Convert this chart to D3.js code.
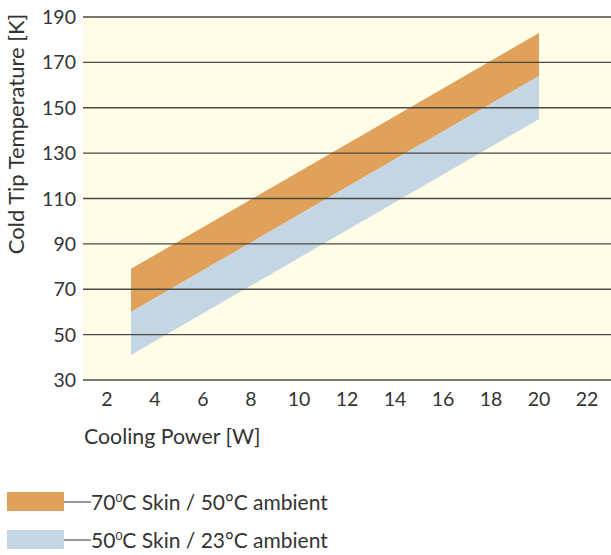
<!DOCTYPE html>
<html>
<head>
<meta charset="utf-8">
<script src="https://cdn.jsdelivr.net/npm/d3@7"></script>
<style>
  body { margin: 0; background: #fff; }
  svg text { font-family: Lato, "Open Sans", sans-serif; fill: #333; }
</style>
</head>
<body>
<div id="chart"></div>
<script>
// data
const powers = [3, 20];
const hotTop = [79, 183];      // 70C skin upper edge
const hotBottom = [60, 164];   // 70C skin lower edge
const coldTop = [60, 164];     // 50C skin upper edge
const coldBottom = [41, 145];  // 50C skin lower edge
const xTicks = [2, 4, 6, 8, 10, 12, 14, 16, 18, 20, 22];
const yTicks = [30, 50, 70, 90, 110, 130, 150, 170, 190];
const legendLabels = [
  ['70', 'C Skin / 50°C ambient'],
  ['50', 'C Skin / 23°C ambient']
];
const bandColors = ['#e0a15b', '#c4d6e3'];

const width = 611, height = 555;
const margin = [17, 175, 83, 0]; // top, bottom, left, right

const svg = d3.select('#chart').append('svg')
  .attr('width', width).attr('height', height);

const x = d3.scaleLinear([1, 23], [margin[2], width - margin[3]]);
const y = d3.scaleLinear([30, 190], [height - margin[1], margin[0]]);

// plot background
svg.append('rect')
  .attr('x', x(1)).attr('y', y(190))
  .attr('width', x(23) - x(1)).attr('height', y(30) - y(190))
  .attr('fill', '#fffce8');

// bands
const bands = [
  powers.map((p, i) => ({ p, lo: hotBottom[i], hi: hotTop[i] })),
  powers.map((p, i) => ({ p, lo: coldBottom[i], hi: coldTop[i] }))
];
const area = d3.area().x(d => x(d.p)).y0(d => y(d.lo)).y1(d => y(d.hi));
svg.selectAll('path.band')
  .data(bands)
  .join('path')
  .classed('band', true)
  .attr('d', area)
  .attr('fill', (d, i) => bandColors[i]);

// horizontal grid
svg.append('g')
  .selectAll('line')
  .data(yTicks)
  .join('line')
  .attr('x1', x(1)).attr('x2', x(23))
  .attr('y1', d => y(d)).attr('y2', d => y(d))
  .attr('stroke', '#4a4a44').attr('stroke-width', 1.4);

// y tick labels
svg.append('g')
  .selectAll('text')
  .data(yTicks)
  .join('text')
  .attr('x', 76).attr('y', d => y(d))
  .attr('dy', '0.36em')
  .attr('text-anchor', 'end')
  .style('font-size', '19.5px')
  .text(d => d);

// x tick labels
svg.append('g')
  .selectAll('text')
  .data(xTicks)
  .join('text')
  .attr('x', d => x(d)).attr('y', 406)
  .attr('text-anchor', 'middle')
  .style('font-size', '19.5px')
  .text(d => d);

// axis titles
svg.append('text')
  .attr('x', 84).attr('y', 444)
  .style('font-size', '21.3px')
  .text('Cooling Power [W]');
svg.append('text')
  .attr('transform', 'translate(24,134)rotate(-90)')
  .attr('text-anchor', 'middle')
  .style('font-size', '22px')
  .text('Cold Tip Temperature [K]');

// legend
const legend = svg.append('g').selectAll('g')
  .data(legendLabels)
  .join('g')
  .attr('transform', (d, i) => `translate(7,${492 + i * 38})`);
legend.append('rect')
  .attr('width', 57).attr('height', 19)
  .attr('fill', (d, i) => bandColors[i]);
legend.append('line')
  .attr('x1', 57).attr('x2', 84).attr('y1', 10).attr('y2', 10)
  .attr('stroke', '#333').attr('stroke-width', 1);
const lt = legend.append('text')
  .attr('x', 84).attr('y', 18)
  .style('font-size', '21px');
lt.append('tspan').text(d => d[0]);
lt.append('tspan').attr('dy', -8).style('font-size', '12px').text('0');
lt.append('tspan').attr('dy', 8).text(d => d[1]);
</script>
</body>
</html>
